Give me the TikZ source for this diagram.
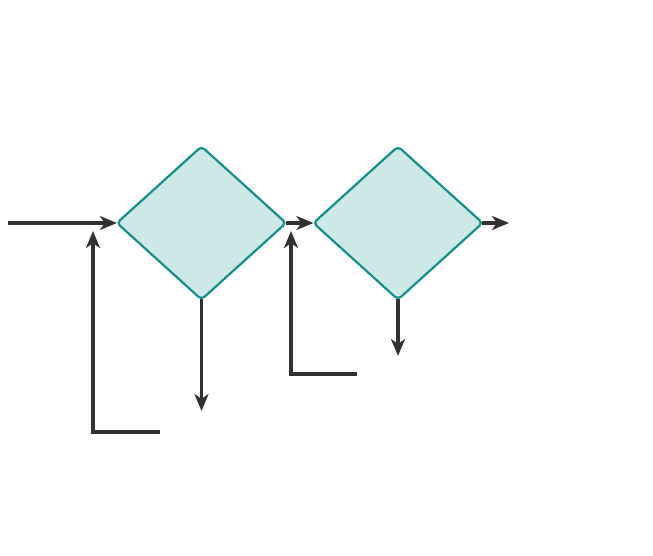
\documentclass[tikz,border=0pt]{standalone}
\usetikzlibrary{shapes.geometric,arrows.meta}
\definecolor{linec}{HTML}{333031}
\definecolor{dfill}{HTML}{CDE8E6}
\definecolor{dline}{HTML}{14908C}
\begin{document}
\begin{tikzpicture}[x=1pt,y=-1pt,
  decision/.style={diamond,draw=dline,fill=dfill,line width=2.2pt,inner sep=0pt,
    minimum width=170pt,minimum height=154pt,rounded corners=4pt},
  conn/.style={draw=linec,line width=3.6pt,
    -{Stealth[length=17pt,width=14pt,inset=5pt]}},
  touch/.style={shorten >=-1.5pt}]
\useasboundingbox (0,0) rectangle (653,556);
\node[decision] (d1) at (201.5,223) {};
\node[decision] (d2) at (398,223) {};
\coordinate (in) at (8,223);
\coordinate (f1s) at (160,432);
\coordinate (f1c) at (93,432);
\coordinate (f1e) at (93,231);
\coordinate (o1) at (201.5,411);
\coordinate (f2s) at (357,374);
\coordinate (f2c) at (291,374);
\coordinate (f2e) at (291,231);
\coordinate (o2) at (398,356);
\coordinate (out) at (509,223);
\draw[conn,touch] (in) -- (d1.west);
\draw[conn] (f1s) -- (f1c) -- (f1e);
\draw[conn] ([yshift=2pt]d1.south) -- (d1.south |- o1);
\draw[conn,touch] ([xshift=-2pt]d1.east) -- (d2.west);
\draw[conn] (f2s) -- (f2c) -- (f2e);
\draw[conn] ([yshift=2pt]d2.south) -- (d2.south |- o2);
\draw[conn] ([xshift=-2pt]d2.east) -- (out);
\end{tikzpicture}
\end{document}
